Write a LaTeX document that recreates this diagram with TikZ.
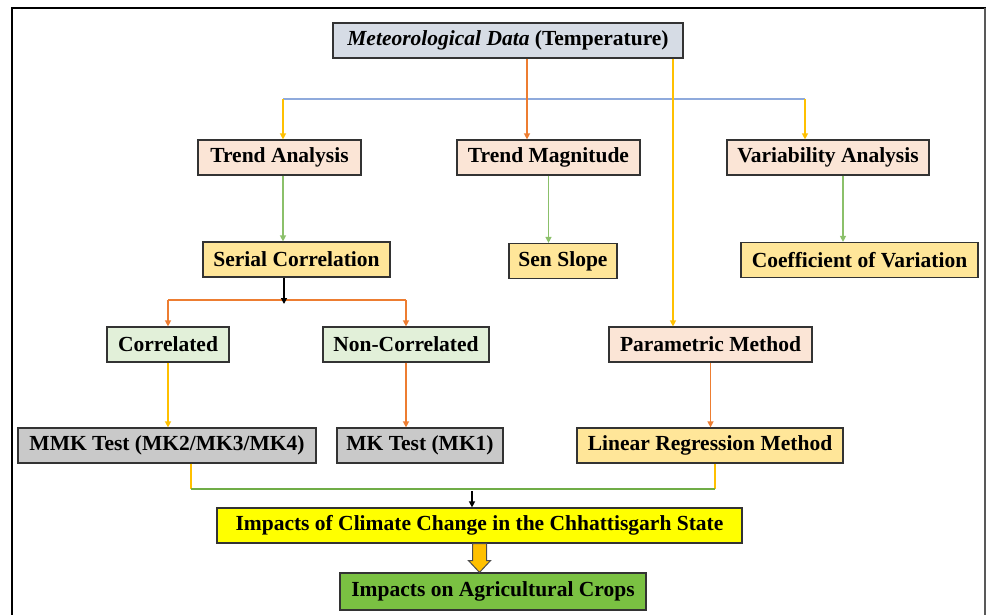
\documentclass[tikz,border=0pt]{standalone}
\usepackage{fontspec}
\setmainfont{Liberation Serif}
\usetikzlibrary{arrows.meta,positioning,calc}

\definecolor{metfill}{HTML}{D6DCE5}
\definecolor{pinkfill}{HTML}{FBE5D6}
\definecolor{goldfill}{HTML}{FFE699}
\definecolor{mintfill}{HTML}{E2F0D9}
\definecolor{grayfill}{HTML}{C9C9C9}
\definecolor{impfill}{HTML}{FFFF00}
\definecolor{cropfill}{HTML}{7AC142}
\definecolor{blueline}{HTML}{8FAADC}
\definecolor{orangeline}{HTML}{ED7D31}
\definecolor{yellowline}{HTML}{FFC000}
\definecolor{greenline}{HTML}{8BC06A}
\definecolor{darkgreen}{HTML}{70AD47}

\begin{document}
\begin{tikzpicture}[
    x=1pt, y=-1pt,
    box/.style={rectangle, draw=black!80, line width=1.2pt, minimum height=35pt, inner xsep=2pt,
        font=\fontsize{21.5}{24}\selectfont\bfseries},
    arrow/.style={-{Triangle[length=6pt,width=6pt]}, line width=1.3pt},
    line/.style={line width=1.3pt}
]
\useasboundingbox (0,0) rectangle (986,615);
% frame
\draw[line width=2.5pt] (986,8) -- (12,8) -- (12,615);
\draw[black!65, line width=1.5pt] (985,8) -- (985,615);

% boxes
\node[box, fill=metfill, minimum width=350pt] (met) at (508,40.5) {\textit{Meteorological Data} (Temperature)};
\node[box, fill=pinkfill, minimum width=163pt] (ta) at (279.5,157.5) {Trend Analysis};
\node[box, fill=pinkfill, minimum width=183pt] (tm) at (548.5,157.5) {Trend Magnitude};
\node[box, fill=pinkfill, minimum width=202pt] (va) at (828,157.5) {Variability Analysis};
\node[box, fill=goldfill, minimum width=187pt] (sc) at (296.5,259.5) {Serial Correlation};
\node[box, fill=goldfill, minimum width=108pt] (ss) at (563,261) {Sen Slope};
\node[box, fill=goldfill, minimum width=237pt] (cv) at (859.5,260) {Coefficient of Variation};
\node[box, fill=mintfill, minimum width=122pt] (cor) at (168,344.5) {Correlated};
\node[box, fill=mintfill, minimum width=166pt] (nc) at (406,344.5) {Non-Correlated};
\node[box, fill=pinkfill, minimum width=203pt] (pm) at (710.5,344.5) {Parametric Method};
\node[box, fill=grayfill, minimum width=298pt] (mmk) at (167,445.5) {MMK Test (MK2/MK3/MK4)};
\node[box, fill=grayfill, minimum width=166pt] (mk) at (420,445.5) {MK Test (MK1)};
\node[box, fill=goldfill, minimum width=266pt] (lr) at (710,445.5) {Linear Regression Method};
\node[box, fill=impfill, minimum width=525pt] (imp) at (479.5,525.5) {Impacts of Climate Change in the Chhattisgarh State};
\node[box, fill=cropfill, minimum width=306pt, minimum height=37pt] (crop) at (493,591.5) {Impacts on Agricultural Crops};

% branch points
\coordinate (bl) at (283,99);
\coordinate (br) at (805,99);
\coordinate (mo) at (527,0);
\coordinate (my) at (673,0);
\coordinate (gv) at (843,0);
\coordinate (cs) at (284,300);
\coordinate (ml) at (191,489);
\coordinate (mr) at (715,489);
\coordinate (mc) at (472,489);

% connectors
\draw[line, blueline] (bl) -- (br);
\draw[arrow, yellowline] (bl) -- (bl |- ta.north);
\draw[arrow, yellowline] (br) -- (br |- va.north);
\draw[arrow, orangeline] (mo |- met.south) -- (mo |- tm.north);
\draw[arrow, yellowline] (my |- met.south) -- (my |- pm.north);
\draw[arrow, greenline] (bl |- ta.south) -- (bl |- sc.north);
\draw[arrow, greenline] (tm.south) -- (tm.south |- ss.north);
\draw[arrow, greenline] (gv |- va.south) -- (gv |- cv.north);
\draw[line, orangeline] (cor.north |- cs) -- (nc.north |- cs);
\draw[arrow, black] (cs |- sc.south) -- ($(cs)+(0,4)$);
\draw[arrow, orangeline] (cor.north |- cs) -- (cor.north);
\draw[arrow, orangeline] (nc.north |- cs) -- (nc.north);
\draw[arrow, yellowline] (cor.south) -- (cor.south |- mmk.north);
\draw[arrow, orangeline] (nc.south) -- (nc.south |- mk.north);
\draw[arrow, orangeline] (pm.south) -- (pm.south |- lr.north);
\draw[line, yellowline] (ml |- mmk.south) -- (ml);
\draw[line, yellowline] (mr |- lr.south) -- (mr);
\draw[line, darkgreen] (ml) -- (mr);
\draw[arrow, black] ($(mc)+(0,2)$) -- (mc |- imp.north);

% block arrow
\draw[fill=yellowline, draw=black!70, line width=1pt]
    ($(imp.south)+(-7,0)$) -- ++(0,17) -- ++(-4,0) -- ($(imp.south |- crop.north)$)
    -- ($(imp.south)+(11,17)$) -- ++(-4,0) -- ++(0,-17) -- cycle;
\end{tikzpicture}
\end{document}
